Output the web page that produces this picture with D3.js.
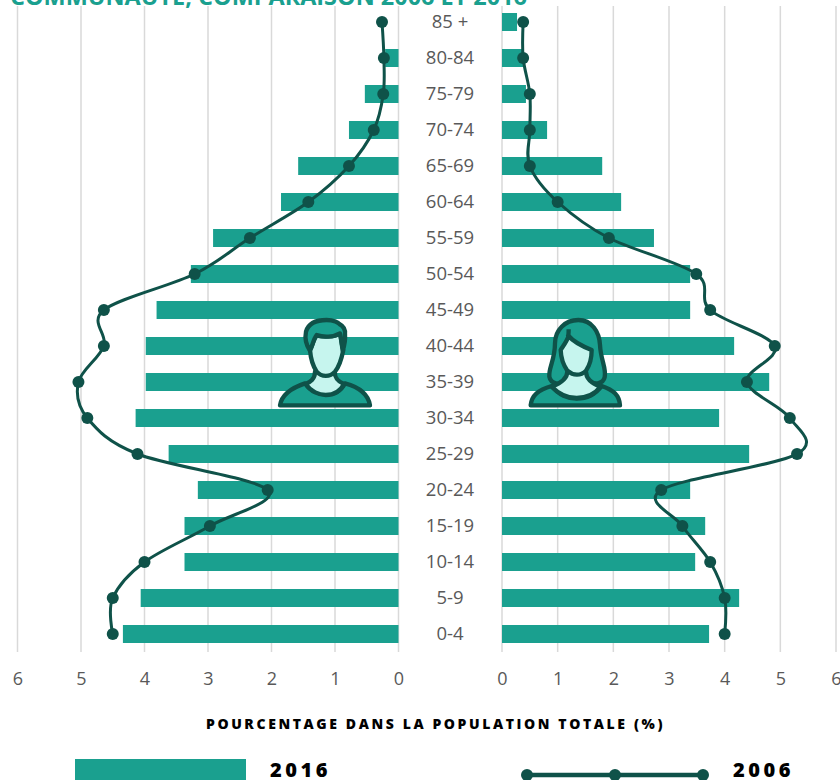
<!DOCTYPE html>
<html><head><meta charset="utf-8">
<script src="https://cdn.jsdelivr.net/npm/d3@7/dist/d3.min.js"></script>
<style>html,body{margin:0;padding:0;background:#fff;overflow:hidden}svg{display:block}</style></head>
<body><svg id="c" width="840" height="780"></svg>
<script>
const ages = ["85 +","80-84","75-79","70-74","65-69","60-64","55-59","50-54","45-49","40-44","35-39","30-34","25-29","20-24","15-19","10-14","5-9","0-4"];
const men2016 = [0,0.21,0.53,0.78,1.58,1.85,2.92,3.27,3.81,3.98,3.98,4.14,3.62,3.16,3.37,3.37,4.06,4.34];
const men2006 = [0.26,0.23,0.24,0.39,0.78,1.42,2.34,3.21,4.64,4.64,5.04,4.9,4.11,2.06,2.97,4.0,4.5,4.5];
const women2016 = [0.27,0.38,0.43,0.81,1.8,2.14,2.73,3.38,3.38,4.17,4.8,3.9,4.44,3.38,3.65,3.47,4.26,3.72];
const women2006 = [0.38,0.38,0.5,0.5,0.5,1.0,1.92,3.49,3.74,4.9,4.4,5.17,5.3,2.86,3.24,3.74,4.0,4.0];
const tickValues = [0,1,2,3,4,5,6];
const titleText = "COMMUNAUTÉ, COMPARAISON 2006 ET 2016";
const axisTitle = "POURCENTAGE DANS LA POPULATION TOTALE (%)";

const TEAL="#1aa08f", DARK="#0f5249", LIGHT="#c6f5ee", GRID="#d9d9d9", GRAY="#595959";
const svg=d3.select("#c");
const y=d3.scaleBand().domain(ages).range([4,652]).paddingInner(0.5).paddingOuter(0.25);
const xL=d3.scaleLinear().domain([0,6]).range([398.5,17.5]);
const xR=d3.scaleLinear().domain([0,6]).range([502,836]);
const FONT="'Open Sans',sans-serif";

svg.append("text").attr("x",10).attr("y",5).attr("font-family",FONT).attr("font-weight",700)
  .attr("font-size",23).attr("fill",TEAL).attr("textLength",517).attr("lengthAdjust","spacingAndGlyphs").text(titleText);

function side(x,bars,line,isLeft){
  const g=svg.append("g");
  const ax=d3.axisBottom(x).tickValues(tickValues).tickFormat(d3.format("d")).tickSize(0).tickPadding(0);
  const a=g.append("g").attr("transform","translate(0,672)").call(ax);
  a.select(".domain").remove();
  a.selectAll("text").attr("font-family",FONT).attr("font-size",18).attr("fill",GRAY).attr("dy","0.7em");
  g.append("g").selectAll("line").data(tickValues).join("line")
    .attr("x1",d=>x(d)).attr("x2",d=>x(d)).attr("y1",6).attr("y2",652)
    .attr("stroke",GRID).attr("stroke-width",1.5);
  g.append("g").selectAll("rect").data(ages).join("rect")
    .attr("x",(d,i)=>isLeft?x(bars[i]):x(0)).attr("y",d=>y(d))
    .attr("width",(d,i)=>Math.abs(x(bars[i])-x(0))).attr("height",y.bandwidth())
    .attr("fill",TEAL);
  const gen=d3.line().x((d,i)=>x(d)).y((d,i)=>y(ages[i])+y.bandwidth()/2).curve(d3.curveCardinal.tension(0));
  g.append("path").attr("d",gen(line)).attr("fill","none").attr("stroke",DARK).attr("stroke-width",3);
  g.append("g").selectAll("circle").data(line).join("circle")
    .attr("cx",d=>x(d)).attr("cy",(d,i)=>y(ages[i])+y.bandwidth()/2).attr("r",6).attr("fill",DARK);
}
side(xL,men2016,men2006,true);
side(xR,women2016,women2006,false);

svg.append("g").selectAll("text").data(ages).join("text")
  .attr("x",450).attr("y",d=>y(d)+y.bandwidth()/2).attr("dy","0.35em").attr("text-anchor","middle")
  .attr("font-family",FONT).attr("font-size",18.5).attr("fill",GRAY).text(d=>d);

svg.append("text").attr("x",435.5).attr("y",729).attr("text-anchor","middle")
  .attr("font-family",FONT).attr("font-weight",800).attr("font-size",14).attr("letter-spacing",2.6).attr("fill","#000").text(axisTitle);

// Legend
svg.append("rect").attr("x",75).attr("y",759).attr("width",171).attr("height",21).attr("fill",TEAL);
svg.append("text").attr("x",270).attr("y",777).attr("font-family",FONT).attr("font-weight",800).attr("font-size",20).attr("letter-spacing",3.5).attr("fill","#000").text("2016");
const legendDots=[527,615,703];
svg.append("line").attr("x1",527).attr("x2",703).attr("y1",775).attr("y2",775).attr("stroke",DARK).attr("stroke-width",4.5);
svg.append("g").selectAll("circle").data(legendDots).join("circle").attr("cx",d=>d).attr("cy",775).attr("r",6).attr("fill",DARK);
svg.append("text").attr("x",733).attr("y",777).attr("font-family",FONT).attr("font-weight",800).attr("font-size",20).attr("letter-spacing",3.5).attr("fill","#000").text("2006");

// Icons (drawn in 3x crop units)
function icon(tx,ty,parts){
  const g=svg.append("g").attr("transform",`translate(${tx},${ty}) scale(${1/3})`)
    .attr("stroke",DARK).attr("stroke-width",13).attr("stroke-linejoin","round");
  parts.forEach(([d,f])=>g.append("path").attr("d",d).attr("fill",f));
}
icon(260,300,[
 ["M60,316 C65,285 90,265 135,250 C150,270 175,283 197,283 C225,283 245,270 255,250 C300,262 325,285 330,316 Z",TEAL],
 ["M165,215 C165,238 150,246 137,252 C152,275 178,285 197,285 C222,285 242,272 252,252 C238,246 224,238 224,215 Z",LIGHT],
 ["M150,150 C158,140 160,118 170,106 C190,112 225,110 240,100 C245,120 245,140 250,150 C245,175 240,197 225,215 C210,232 185,232 170,215 C160,200 152,175 150,150 Z",LIGHT],
 ["M150,152 C135,130 135,110 138,95 C145,70 170,60 200,60 C222,60 235,68 238,72 C250,78 257,90 255,105 C257,125 252,140 248,152 C245,130 243,115 240,100 C220,112 190,112 170,105 C160,118 158,135 150,152 Z",TEAL]
]);
icon(510,300,[
 ["M205,60 C165,60 135,90 135,130 C135,180 115,205 118,230 C122,252 150,258 170,240 L235,240 C255,258 280,250 284,232 C290,205 272,180 270,135 C268,95 245,60 205,60 Z",TEAL],
 ["M62,316 C65,285 85,270 125,258 C145,285 175,296 200,296 C230,296 255,285 275,258 C310,270 328,285 330,316 Z",TEAL],
 ["M172,215 C172,235 150,250 125,260 C150,285 175,294 200,294 C230,294 255,282 272,260 C245,250 228,235 228,215 Z",LIGHT],
 ["M152,150 C158,140 170,125 176,108 C190,125 220,140 245,150 C245,175 240,195 228,212 C212,228 190,228 172,212 C160,195 153,175 152,150 Z",LIGHT],
 ["M176,88 C176,100 174,110 172,112",TEAL]
]);
</script></body></html>
